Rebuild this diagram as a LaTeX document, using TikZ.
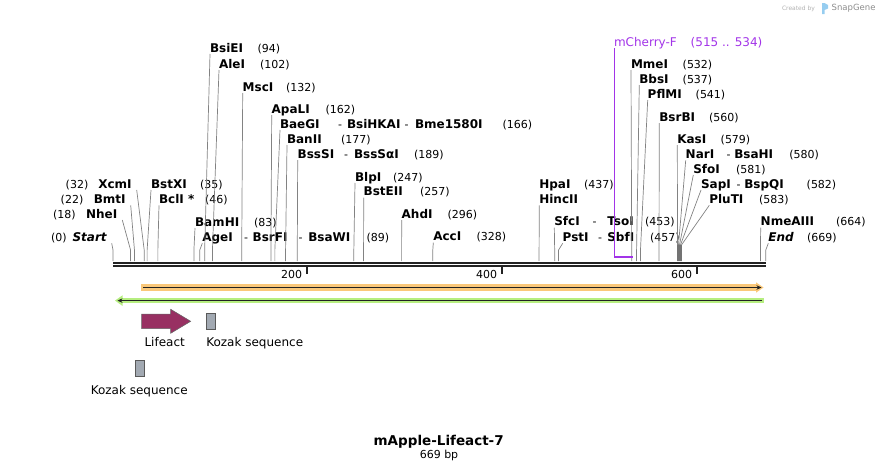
\documentclass[tikz,border=0pt]{standalone}
\usepackage{fontspec}
\setmainfont{DejaVu Sans}
\usepackage{tikz}
\usetikzlibrary{arrows.meta}

\definecolor{bbone}{RGB}{34,34,34}
\definecolor{cutline}{RGB}{130,130,130}
\definecolor{primercol}{RGB}{162,52,232}
\definecolor{orangebar}{RGB}{250,200,122}
\definecolor{greenbar}{RGB}{182,238,128}
\definecolor{lifeactcol}{RGB}{152,48,98}
\definecolor{kozakgrey}{RGB}{162,169,178}
\definecolor{snapblue}{RGB}{150,205,240}

\begin{document}
\begin{tikzpicture}[
    x=1pt, y=-1pt,
    every node/.style={inner sep=0pt, outer sep=0pt, font=\fontsize{11}{13}\selectfont},
    enz/.style={anchor=base west, font=\fontsize{12}{14}\selectfont\bfseries},
    enz left/.style={enz, anchor=base east},
    bpnum/.style={anchor=base west},
    bpnum left/.style={anchor=base east},
    cut/.style={draw=cutline, line width=0.7pt},
    primer/.style={anchor=base west, text=primercol, font=\fontsize{12}{14}\selectfont},
    kozak/.style={draw=black!65, fill=kozakgrey, line width=0.5pt, minimum width=9pt, minimum height=15.5pt},
    feat/.style={font=\fontsize{12}{14}\selectfont}
]
    \useasboundingbox (0,0) rectangle (880,471);

    % Backbone and ticks
    \draw[bbone, line width=2.1pt, double=white, double distance=1.3pt] (113,264.5) -- (766,264.5);
    \foreach \t/\x in {200/306.7, 400/501.7, 600/696.7} {
        \draw[bbone, line width=2pt] (\x,267) -- (\x,274);
        \node[anchor=base east] (tick\t) at (\x-4.5,278) {\t};
    }

    % Upper left enzymes
    \node[enz] (bsiei) at (210,52) {BsiEI};
    \node[bpnum] (bsiei-n) at (257.7,52) {(94)};
    \node[enz] (alei) at (219,68) {AleI};
    \node[bpnum] (alei-n) at (260,68) {(102)};
    \node[enz] (msci) at (242.7,91) {MscI};
    \node[bpnum] (msci-n) at (286,91) {(132)};
    \node[enz] (apali) at (271.7,113) {ApaLI};
    \node[bpnum] (apali-n) at (325.7,113) {(162)};
    \node[enz] (baegi) at (280,128) {BaeGI};
    \node[bpnum] (baegi-d) at (338,128) {-};
    \node[enz] (bsihkai) at (347,128) {BsiHKAI};
    \node[bpnum] (bsihkai-d) at (404.7,128) {-};
    \node[enz] (bme1580i) at (415,128) {Bme1580I};
    \node[bpnum] (baegi-n) at (502.7,128) {(166)};
    \node[enz] (banii) at (287,143) {BanII};
    \node[bpnum] (banii-n) at (341,143) {(177)};
    \node[enz] (bsssi) at (297.7,158) {BssSI};
    \node[bpnum] (bsssi-d) at (344,158) {-};
    \node[enz] (bsssai) at (354,158) {BssSαI};
    \node[bpnum] (bsssi-n) at (414,158) {(189)};

    % Lower left enzymes
    \node[enz left] (startlbl) at (106.7,241.3) {\itshape Start};
    \node[bpnum left] (startlbl-n) at (66.7,241.3) {(0)};
    \node[enz left] (nhei) at (117.3,218) {NheI};
    \node[bpnum left] (nhei-n) at (75.7,218) {(18)};
    \node[enz left] (bmti) at (125.7,203.3) {BmtI};
    \node[bpnum left] (bmti-n) at (83.3,203.3) {(22)};
    \node[enz left] (xcmi) at (131.7,188) {XcmI};
    \node[bpnum left] (xcmi-n) at (88.3,188) {(32)};
    \node[enz] (bstxi) at (151,188) {BstXI};
    \node[bpnum] (bstxi-n) at (200,188) {(35)};
    \node[enz] (bcli) at (159,203.3) {BclI *};
    \node[bpnum] (bcli-n) at (205,203.3) {(46)};
    \node[enz] (bamhi) at (195,226) {BamHI};
    \node[bpnum] (bamhi-n) at (254,226) {(83)};
    \node[enz] (agei) at (202.3,241.3) {AgeI};
    \node[bpnum] (agei-d) at (244,241.3) {-};
    \node[enz] (bsrfi) at (252.7,241.3) {BsrFI};
    \node[bpnum] (bsrfi-d) at (298.5,241.3) {-};
    \node[enz] (bsawi) at (308.3,241.3) {BsaWI};
    \node[bpnum] (agei-n) at (366.7,241.3) {(89)};

    % Middle enzymes
    \node[enz] (blpi) at (355,181) {BlpI};
    \node[bpnum] (blpi-n) at (393,181) {(247)};
    \node[enz] (bsteii) at (363.7,195.7) {BstEII};
    \node[bpnum] (bsteii-n) at (420,195.7) {(257)};
    \node[enz] (ahdi) at (401.7,218) {AhdI};
    \node[bpnum] (ahdi-n) at (447.7,218) {(296)};
    \node[enz] (acci) at (433.3,240.7) {AccI};
    \node[bpnum] (acci-n) at (476.7,240.7) {(328)};

    % Right enzymes
    \node[enz] (hpai) at (539.3,188) {HpaI};
    \node[bpnum] (hpai-n) at (584,188) {(437)};
    \node[enz] (hincii) at (539.3,203.3) {HincII};
    \node[enz] (sfci) at (554.3,225.7) {SfcI};
    \node[bpnum] (sfci-d) at (592.7,225.7) {-};
    \node[enz] (tsoi) at (607.3,225.7) {TsoI};
    \node[bpnum] (sfci-n) at (645,225.7) {(453)};
    \node[enz] (psti) at (562.7,241.3) {PstI};
    \node[bpnum] (psti-d) at (598,241.3) {-};
    \node[enz] (sbfi) at (607.3,241.3) {SbfI};
    \node[bpnum] (psti-n) at (650,241.3) {(457)};
    \node[enz] (mmei) at (631,68) {MmeI};
    \node[bpnum] (mmei-n) at (682.7,68) {(532)};
    \node[enz] (bbsi) at (639.3,83) {BbsI};
    \node[bpnum] (bbsi-n) at (682.7,83) {(537)};
    \node[enz] (pflmi) at (647.7,98) {PflMI};
    \node[bpnum] (pflmi-n) at (695.7,98) {(541)};
    \node[enz] (bsrbi) at (659.3,121) {BsrBI};
    \node[bpnum] (bsrbi-n) at (709,121) {(560)};
    \node[enz] (kasi) at (677.3,143) {KasI};
    \node[bpnum] (kasi-n) at (720.7,143) {(579)};
    \node[enz] (nari) at (685.7,158.3) {NarI};
    \node[bpnum] (nari-d) at (726.7,158.3) {-};
    \node[enz] (bsahi) at (734.3,158.3) {BsaHI};
    \node[bpnum] (nari-n) at (789.3,158.3) {(580)};
    \node[enz] (sfoi) at (693.3,173) {SfoI};
    \node[bpnum] (sfoi-n) at (736,173) {(581)};
    \node[enz] (sapi) at (701,188) {SapI};
    \node[bpnum] (sapi-d) at (736.7,188) {-};
    \node[enz] (bspqi) at (744.3,188) {BspQI};
    \node[bpnum] (sapi-n) at (806.7,188) {(582)};
    \node[enz] (pluti) at (709.3,203.3) {PluTI};
    \node[bpnum] (pluti-n) at (759,203.3) {(583)};
    \node[enz] (nmeaiii) at (760.7,225.7) {NmeAIII};
    \node[bpnum] (nmeaiii-n) at (836,225.7) {(664)};
    \node[enz] (endlbl) at (768.3,241.3) {\itshape End};
    \node[bpnum] (endlbl-n) at (807,241.3) {(669)};

    % Cut sites on the backbone
    \foreach \n/\b in {startlbl/0, nhei/18, bmti/22, xcmi/32, bstxi/35, bcli/46, bamhi/83, agei/89,
        bsiei/94, alei/102, msci/132, apali/162, baegi/166, banii/177, bsssi/189, blpi/247,
        bsteii/257, ahdi/296, acci/328, hincii/437, sfci/453, psti/457, mmei/532, bbsi/537,
        pflmi/541, bsrbi/560, kasi/579, nari/580, sfoi/581, sapi/582, pluti/583, nmeaiii/664, endlbl/669.5}
        \coordinate (\n-site) at ({113+0.975*\b},261);

    \foreach \n in {startlbl, nhei, bmti, xcmi}
        \draw[cut] ([xshift=5pt,yshift=-2pt]\n.base east) -- ([yshift=11pt]\n-site) -- (\n-site);
    \foreach \n/\k in {bsiei/11, alei/11, msci/11, apali/11, baegi/11, banii/11, bsssi/11,
        bstxi/11, bcli/11, bamhi/11, agei/11, blpi/11, bsteii/11, ahdi/11, acci/11, hincii/11,
        sfci/11, psti/11, mmei/11, bbsi/11, pflmi/11, bsrbi/11, kasi/16, nari/16, sfoi/16,
        sapi/16, pluti/16, nmeaiii/11, endlbl/11}
        \draw[cut] ([yshift=-2pt]\n.base west) -- ([yshift=\k pt]\n-site) -- (\n-site);
    \fill[black!55] (676.7,245) rectangle (681.7,261);

    % Primer
    \node[primer] (mcherry) at (614,46.7) {mCherry-F};
    \node[primer] (mcherry-n) at (690.7,46.7) {(515 .. 534)};
    \coordinate (primer-a) at (614.7,257.3);
    \coordinate (primer-b) at (632.7,257.3);
    \draw[primercol, line width=1.2pt] ([xshift=0.7pt,yshift=-1.6pt]mcherry.base west) -- (primer-a);
    \draw[primercol, line width=2.3pt] ([xshift=-0.6pt]primer-a) -- (primer-b);

    % Feature bars
    \fill[orangebar] (141,284.3) rectangle (757,290.7);
    \fill[orangebar] (756,282.3) -- (763.5,287.5) -- (756,292.7) -- cycle;
    \draw[bbone, line width=1.2pt, -{Stealth[length=5pt,width=4.5pt]}] (143,287.5) -- (761.5,287.5);
    \fill[greenbar] (122,297.8) rectangle (763.5,303.4);
    \fill[greenbar] (122.5,295.3) -- (115,300.6) -- (122.5,305.9) -- cycle;
    \draw[bbone, line width=1.2pt, -{Stealth[length=5pt,width=4.5pt]}] (762,300.6) -- (117.5,300.6);

    % Features
    \filldraw[fill=lifeactcol, draw=black!60, line width=0.5pt] (141.7,314) -- (170.7,314) -- (170.7,309.3)
        -- (190.7,321.3) -- (170.7,333.3) -- (170.7,328.7) -- (141.7,328.7) -- cycle;
    \node[feat, anchor=base] (lifeact-lbl) at (164.7,346.7) {Lifeact};
    \node[kozak] (kozak1) at (211,321.2) {};
    \node[feat, anchor=base west] (kozak1-lbl) at (206.3,346.7) {Kozak sequence};
    \node[kozak] (kozak2) at (140,368) {};
    \node[feat, anchor=base] (kozak2-lbl) at (139.2,394) {Kozak sequence};

    % Title
    \node[anchor=base, font=\fontsize{13.5}{15}\selectfont\bfseries] (title) at (438.7,445) {mApple-Lifeact-7};
    \node[anchor=base] (length) at (439,458.3) {669 bp};

    % Credit
    \node[anchor=base east, text=black!30, font=\fontsize{6}{7}\selectfont] (created) at (815,10.7) {Created by};
    \fill[snapblue] (822,3) rectangle (824.5,14) (824.5,3) -- (828,5) -- (828,8.5) -- (824.5,10) -- cycle;
    \node[anchor=base west, text=black!45, font=\fontsize{8.5}{10}\selectfont] (snapgene) at (831.7,10.7) {SnapGene};
\end{tikzpicture}
\end{document}
